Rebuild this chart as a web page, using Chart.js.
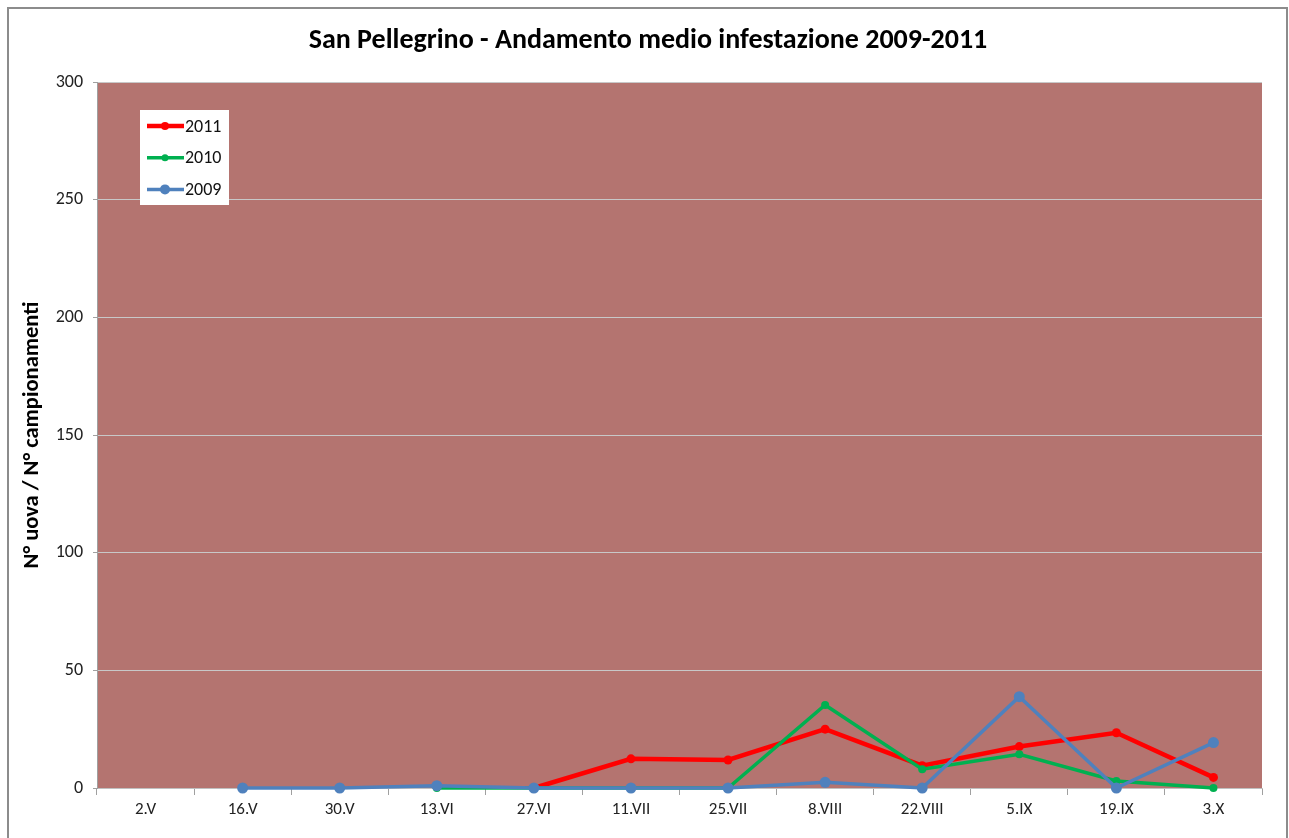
<!DOCTYPE html>
<html>
<head>
<meta charset="utf-8">
<script src="https://cdn.jsdelivr.net/npm/chart.js@4.4.1/dist/chart.umd.min.js"></script>
<style>
    html, body { margin: 0; padding: 0; background: #fff; overflow: hidden; }
    #wrap { position: relative; width: 1289px; height: 838px; }
    #frame { position: absolute; left: 7px; top: 7px; width: 1277px; height: 900px; border: 2px solid #8c8c8c; border-bottom: none; }
    canvas { position: absolute; left: 0; top: 0; }
</style>
</head>
<body>
<div id="wrap">
    <div id="frame"></div>
    <canvas id="chartInfestazione" width="1289" height="838"></canvas>
</div>
<script>
const chartTitle = 'San Pellegrino - Andamento medio infestazione 2009-2011';
const dates = ['2.V', '16.V', '30.V', '13.VI', '27.VI', '11.VII', '25.VII', '8.VIII', '22.VIII', '5.IX', '19.IX', '3.X'];

const values2011 = [null, null, null, null, 0, 12.4, 11.9, 25, 9.5, 17.6, 23.5, 4.5];
const values2010 = [null, null, null, 0, 0, 0, 0, 35.3, 8, 14.3, 3, 0];
const values2009 = [null, 0, 0, 1, 0, 0, 0, 2.4, 0, 38.8, 0, 19.3];

const yTicks = [0, 50, 100, 150, 200, 250, 300];

const fontFamily = "Carlito, Lato, 'Open Sans', sans-serif";

// fill the plot area with the dark rose background
const plotBackground = {
    id: 'plotBackground',
    beforeDraw(chart) {
        const {ctx, chartArea} = chart;
        ctx.save();
        ctx.fillStyle = '#b47470';
        ctx.fillRect(chartArea.left, chartArea.top, chartArea.right - chartArea.left, chartArea.bottom - chartArea.top);
        ctx.restore();
    }
};

// title centred on the whole frame, not on the plot box
const frameTitle = {
    id: 'frameTitle',
    afterDraw(chart) {
        const {ctx} = chart;
        ctx.save();
        ctx.fillStyle = '#000';
        ctx.font = 'bold 28px ' + fontFamily;
        ctx.textAlign = 'center';
        ctx.textBaseline = 'middle';
        ctx.fillText(chartTitle, 648, 41);
        ctx.restore();
    }
};

// small white legend box inside the plot, top-left
const boxLegend = {
    id: 'boxLegend',
    afterDraw(chart) {
        const {ctx, chartArea} = chart;
        const x = chartArea.left + 43;
        const y = chartArea.top + 28;
        ctx.save();
        ctx.fillStyle = '#ffffff';
        ctx.fillRect(x, y, 89, 95);
        chart.data.datasets.forEach(function(ds, i) {
            const rowY = y + 16 + i * 31.7;
            ctx.strokeStyle = ds.borderColor;
            ctx.lineWidth = ds.borderWidth;
            ctx.beginPath();
            ctx.moveTo(x + 7, rowY);
            ctx.lineTo(x + 44, rowY);
            ctx.stroke();
            ctx.fillStyle = ds.borderColor;
            ctx.beginPath();
            ctx.arc(x + 25, rowY, ds.pointRadius - 0.5, 0, Math.PI * 2);
            ctx.fill();
            ctx.fillStyle = '#111';
            ctx.font = '18px ' + fontFamily;
            ctx.textBaseline = 'middle';
            ctx.fillText(ds.label, x + 45, rowY + 1);
        });
        ctx.restore();
    }
};

const chartInfestazione = document.getElementById('chartInfestazione');

new Chart(chartInfestazione, {
    type: 'line',
    plugins: [plotBackground, frameTitle, boxLegend],
    data: {
        labels: dates,
        datasets: [{
            label: '2011',
            data: values2011,
            borderColor: '#ff0000',
            backgroundColor: '#ff0000',
            borderWidth: 4.5,
            pointRadius: 4.5,
            pointBorderWidth: 0,
            order: 3,
            clip: false,
        }, {
            label: '2010',
            data: values2010,
            borderColor: '#00b050',
            backgroundColor: '#00b050',
            borderWidth: 3.5,
            pointRadius: 4,
            pointBorderWidth: 0,
            order: 2,
            clip: false,
        }, {
            label: '2009',
            data: values2009,
            borderColor: '#4f81bd',
            backgroundColor: '#4f81bd',
            borderWidth: 3.5,
            pointRadius: 5.5,
            pointBorderWidth: 0,
            order: 1,
            clip: false,
        }]
    },
    options: {
        responsive: false,
        animation: false,
        layout: {
            padding: {left: 10, right: 27, top: 82, bottom: 0}
        },
        plugins: {
            legend: {display: false},
            tooltip: {enabled: false},
            title: {display: false}
        },
        scales: {
            x: {
                offset: true,
                afterFit: function(axis) { axis.height = 50; },
                grid: {
                    offset: true,
                    drawOnChartArea: false,
                    drawTicks: true,
                    tickLength: 7,
                    color: '#a0a0a0'
                },
                border: {color: '#c0c0c0'},
                ticks: {
                    color: '#222',
                    padding: 5,
                    maxRotation: 0,
                    font: {family: fontFamily, size: 17}
                }
            },
            y: {
                min: 0,
                max: 300,
                afterFit: function(axis) { axis.width = 87; },
                afterBuildTicks: function(axis) {
                    axis.ticks = yTicks.map(function(v) { return {value: v}; });
                },
                grid: {
                    color: '#c8c8c8',
                    tickLength: 4,
                    tickColor: '#a0a0a0'
                },
                border: {color: '#a0a0a0'},
                ticks: {
                    color: '#222',
                    padding: 10,
                    font: {family: fontFamily, size: 18}
                },
                title: {
                    display: true,
                    text: 'N° uova / N° campionamenti',
                    color: '#000',
                    font: {family: fontFamily, size: 22.5, weight: 'bold', lineHeight: 1.2},
                    padding: {top: 9, bottom: 0}
                }
            }
        }
    }
});
</script>
</body>
</html>
